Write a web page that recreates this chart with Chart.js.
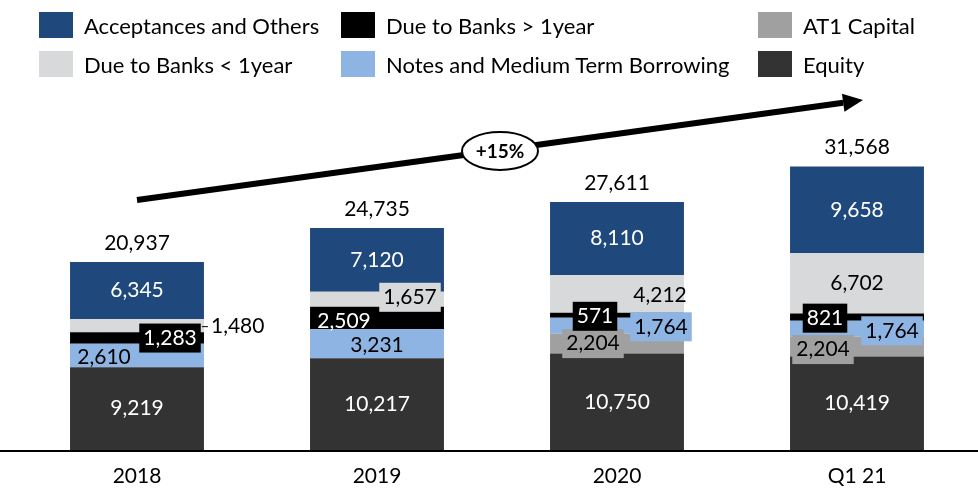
<!DOCTYPE html>
<html>
<head>
<meta charset="utf-8">
<script src="https://cdn.jsdelivr.net/npm/chart.js@4.4.1/dist/chart.umd.min.js"></script>
<style>
  body { margin: 0; background: #fff; }
  .wrap { position: relative; width: 978px; height: 491px; }
  canvas { position: absolute; left: 0; top: 0; }
  .legend-item { position: absolute; display: flex; align-items: center; height: 26px;
                 font: 22px Lato, sans-serif; color: #000; white-space: nowrap; }
  .legend-item span.sw { display: inline-block; width: 34px; height: 26px; margin-right: 11px; }
</style>
</head>
<body>
<div class="wrap">
  <canvas id="funding" width="978" height="491"></canvas>
  <div id="legend"></div>
</div>
<script>
const categories = ['2018', '2019', '2020', 'Q1 21'];
const equity = [9219, 10217, 10750, 10419];
const at1Capital = [0, 0, 2204, 2204];
const notesBorrowing = [2610, 3231, 1764, 1764];
const dueBanksLong = [1283, 2509, 571, 821];
const dueBanksShort = [1480, 1657, 4212, 6702];
const acceptances = [6345, 7120, 8110, 9658];
const totals = [20937, 24735, 27611, 31568];
const growthLabel = '+15%';

const FONT = 'Lato, sans-serif';

// stacked bottom -> top
const series = [
  { label: 'Equity', data: equity, color: '#333333', text: '#fff' },
  { label: 'AT1 Capital', data: at1Capital, color: '#a0a0a0', text: '#000' },
  { label: 'Notes and Medium Term Borrowing', data: notesBorrowing, color: '#8eb4e3', text: '#000' },
  { label: 'Due to Banks > 1year', data: dueBanksLong, color: '#000000', text: '#fff' },
  { label: 'Due to Banks < 1year', data: dueBanksShort, color: '#d8d9db', text: '#000' },
  { label: 'Acceptances and Others', data: acceptances, color: '#1f497d', text: '#fff' }
];

// where each segment label sits: offset from the segment centre, optional filled box,
// 'out' = to the right of the bar with a short leader
const placement = [
  [{ dx: 0, dy: 0 }, { dx: 0, dy: 0 }, { dx: 0, dy: 0 }, { dx: 0, dy: 0 }],
  [null, null, { dx: -24, dy: 0, box: true }, { dx: -34, dy: 3, box: true }],
  [{ dx: -33, dy: 2 }, { dx: 0, dy: 1 }, { dx: 44, dy: 1, box: true }, { dx: 35, dy: 2, box: true }],
  [{ dx: 33, dy: 0, box: true }, { dx: -33, dy: 3 }, { dx: -22, dy: 1, box: true }, { dx: -32, dy: 1, box: true }],
  [{ out: true, dy: 1 }, { dx: 33, dy: -2, box: true }, { dx: 43, dy: 1 }, { dx: 0, dy: 0 }],
  [{ dx: 0, dy: 0 }, { dx: 0, dy: 0 }, { dx: 0, dy: 0 }, { dx: 0, dy: 0 }]
];

// legend, three columns x two rows
const legendOrder = [
  ['Acceptances and Others', 39, 12], ['Due to Banks > 1year', 341, 12], ['AT1 Capital', 758, 12],
  ['Due to Banks < 1year', 39, 51], ['Notes and Medium Term Borrowing', 341, 51], ['Equity', 758, 51]
];
const legendEl = document.getElementById('legend');
legendOrder.forEach(([name, x, y]) => {
  const s = series.find(d => d.label === name);
  const div = document.createElement('div');
  div.className = 'legend-item';
  div.style.left = x + 'px';
  div.style.top = y + 'px';
  div.innerHTML = '<span class="sw" style="background:' + s.color + '"></span>' + name;
  legendEl.appendChild(div);
});

const fmt = v => v.toLocaleString('en-US');

const segmentLabels = {
  id: 'segmentLabels',
  afterDatasetsDraw(chart) {
    const ctx = chart.ctx;
    ctx.save();
    ctx.font = '21px ' + FONT;
    ctx.textBaseline = 'middle';
    chart.data.datasets.forEach((ds, di) => {
      const meta = chart.getDatasetMeta(di);
      meta.data.forEach((bar, i) => {
        const p = placement[di][i];
        const v = ds.data[i];
        if (!p || !v) return;
        const cy = (bar.y + bar.base) / 2 + (p.dy || 0);
        const txt = fmt(v);
        if (p.out) {
          const right = bar.x + bar.width / 2;
          ctx.strokeStyle = '#000';
          ctx.lineWidth = 1;
          ctx.beginPath();
          ctx.moveTo(right - 2, cy);
          ctx.lineTo(right + 4, cy);
          ctx.stroke();
          ctx.fillStyle = '#000';
          ctx.textAlign = 'left';
          ctx.fillText(txt, right + 7, cy);
          return;
        }
        const cx = bar.x + (p.dx || 0);
        ctx.textAlign = 'center';
        if (p.box) {
          const w = ctx.measureText(txt).width + 8;
          ctx.fillStyle = series[di].color;
          ctx.fillRect(cx - w / 2, cy - 14.5, w, 29);
        }
        ctx.fillStyle = series[di].text;
        ctx.fillText(txt, cx, cy);
      });
    });
    // totals above each bar
    const top = chart.getDatasetMeta(chart.data.datasets.length - 1);
    ctx.fillStyle = '#000';
    ctx.textAlign = 'center';
    top.data.forEach((bar, i) => {
      ctx.fillText(fmt(totals[i]), bar.x, bar.y - 19);
    });
    ctx.restore();
  }
};

const decorations = {
  id: 'decorations',
  afterDraw(chart) {
    const ctx = chart.ctx;
    const x = chart.scales.x, y = chart.scales.y;
    ctx.save();
    // baseline across the full width
    ctx.strokeStyle = '#000';
    ctx.lineWidth = 2;
    ctx.beginPath();
    ctx.moveTo(0, y.getPixelForValue(0) + 1);
    ctx.lineTo(chart.width, y.getPixelForValue(0) + 1);
    ctx.stroke();

    // growth arrow
    const x0 = x.getPixelForValue(0), y0 = y.getPixelForValue(27850);
    const x1 = x.getPixelForValue(3) + 6, y1 = y.getPixelForValue(38980);
    const ang = Math.atan2(y1 - y0, x1 - x0);
    const head = 20, half = 9;
    const bx = x1 - head * Math.cos(ang), by = y1 - head * Math.sin(ang);
    ctx.lineWidth = 6;
    ctx.beginPath();
    ctx.moveTo(x0, y0);
    ctx.lineTo(bx, by);
    ctx.stroke();
    ctx.fillStyle = '#000';
    ctx.beginPath();
    ctx.moveTo(x1, y1);
    ctx.lineTo(bx + half * Math.sin(ang), by - half * Math.cos(ang));
    ctx.lineTo(bx - half * Math.sin(ang), by + half * Math.cos(ang));
    ctx.closePath();
    ctx.fill();

    // CAGR bubble on the arrow
    const t = (500 - x0) / (x1 - x0);
    const ex = x0 + t * (x1 - x0), ey = y0 + t * (y1 - y0) + 1;
    ctx.beginPath();
    ctx.ellipse(ex, ey, 38, 19, 0, 0, Math.PI * 2);
    ctx.fillStyle = '#fff';
    ctx.fill();
    ctx.lineWidth = 2;
    ctx.stroke();
    ctx.fillStyle = '#000';
    ctx.font = 'bold 19px ' + FONT;
    ctx.textAlign = 'center';
    ctx.textBaseline = 'middle';
    ctx.fillText(growthLabel, ex, ey + 1);
    ctx.restore();
  }
};

new Chart(document.getElementById('funding'), {
  type: 'bar',
  data: {
    labels: categories,
    datasets: series.map(s => ({
      label: s.label,
      data: s.data,
      backgroundColor: s.color,
      borderWidth: 0,
      categoryPercentage: 1,
      barPercentage: 0.558
    }))
  },
  options: {
    responsive: false,
    animation: false,
    layout: { padding: { left: 17, right: 1, top: 90, bottom: 0 } },
    plugins: {
      legend: { display: false },
      tooltip: { enabled: false }
    },
    scales: {
      x: {
        stacked: true,
        grid: { display: false, drawTicks: false },
        border: { display: false },
        ticks: { color: '#000', font: { family: FONT, size: 21 }, padding: 14 },
        afterFit(scale) { scale.height = 41; }
      },
      y: {
        stacked: true,
        display: false,
        min: 0,
        max: 40100
      }
    }
  },
  plugins: [segmentLabels, decorations]
});
</script>
</body>
</html>
